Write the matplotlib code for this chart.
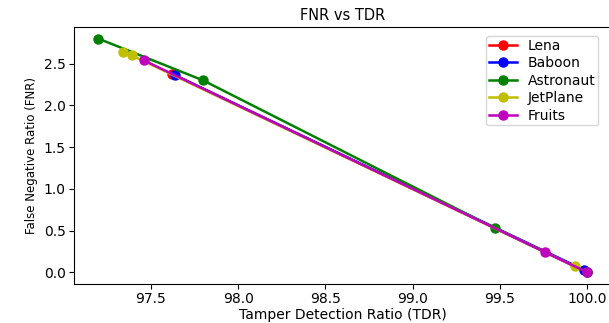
import matplotlib.pyplot as plt

# data (TDR on x, FNR on y)
lena_tdr = [97.62, 100.0]
lena_fnr = [2.38, 0.0]
baboon_tdr = [97.64, 99.98]
baboon_fnr = [2.36, 0.03]
astro_tdr = [97.2, 97.8, 99.47, 100.0]
astro_fnr = [2.8, 2.3, 0.53, 0.0]
jet_tdr = [97.34, 97.39, 99.93]
jet_fnr = [2.64, 2.6, 0.07]
fruits_tdr = [97.46, 99.76, 100.0]
fruits_fnr = [2.54, 0.24, 0.0]

fig = plt.figure(figsize=(6.09, 3.23), dpi=100)
ax = fig.add_axes([0.1215, 0.1207, 0.883, 0.7957])

ax.plot(lena_tdr, lena_fnr, 'o-', color='r', label='Lena', lw=1.8, ms=6.5)
ax.plot(baboon_tdr, baboon_fnr, 'o-', color='b', label='Baboon', lw=1.8, ms=6.5)
ax.plot(astro_tdr, astro_fnr, 'o-', color='g', label='Astronaut', lw=1.8, ms=6.5)
ax.plot(jet_tdr, jet_fnr, 'o-', color='y', label='JetPlane', lw=1.8, ms=6.5)
ax.plot(fruits_tdr, fruits_fnr, 'o-', color='m', label='Fruits', lw=1.8, ms=6.5)

ax.set_title('FNR vs TDR', fontsize=10.5, pad=5)
ax.set_xlabel('Tamper Detection Ratio (TDR)', fontsize=10, labelpad=1)
ax.set_ylabel('False Negative Ratio (FNR)', fontsize=8.5)
ax.tick_params(labelsize=10, pad=2.5)
ax.legend(loc='upper right', bbox_to_anchor=(0.975, 0.965), borderaxespad=0,
          fontsize=10, labelspacing=0.25, borderpad=0.2)

fig.savefig('out.png', dpi=100)
